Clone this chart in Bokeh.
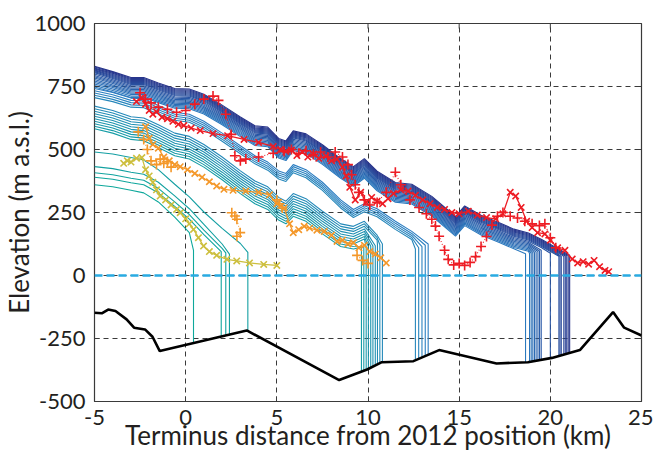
from bokeh.plotting import figure
from bokeh.models import FixedTicker, Span, Range1d
from bokeh.embed import file_html
from bokeh.resources import INLINE

nan = float("nan")

# ---------------- axes ----------------
x_tick_values = [-5, 0, 5, 10, 15, 20, 25]
x_tick_labels = ["-5", "0", "5", "10", "15", "20", "25"]
y_tick_values = [-500, -250, 0, 250, 500, 750, 1000]
y_tick_labels = ["-500", "-250", "0", "250", "500", "750", "1000"]
x_label = "Terminus distance from 2012 position (km)"
y_label = "Elevation (m a.s.l.)"
sea_level = 0

# ---------------- bed ----------------
bed_x = [-5, -4.6, -4.25, -3.85, -3.24, -2.83, -2.23, -1.82, -1.42, 3.35, 8.42, 9.95, 10.76,
         12.49, 13.9, 17.05, 18.77, 20.09, 21.62, 23.44, 24.05, 25]
bed_z = [-148, -150, -135, -141, -174, -207, -214, -243, -300, -218, -415, -373, -344,
         -340, -296, -349, -344, -327, -296, -145, -207, -238]

# ---------------- modelled surface profiles ----------------
profile_x = [-5, -4, -3, -2.3, -1.5, -0.6, 0.2, 1, 2, 3, 3.8, 4.5, 5.1, 5.5, 5.9, 6.6, 7.5,
             8.5, 9.2, 9.8, 10.5, 11.5, 12.4, 13.5, 14.8, 15.3, 16.2, 17.2, 18, 18.8, 19.5, 20.3]

group_a = [
    [360, 352, 338, 328, 292, 232, 170],
    [390, 382, 368, 360, 328, 274, 224, 162],
    [408, 400, 386, 378, 346, 292, 242, 180, 108],
    [432, 424, 410, 402, 370, 316, 265, 203, 125],
    [490, 482, 468, 458, 420, 362, 312, 252, 187, 127],
]
group_a_termini = [0.43, 1.95, 2.2, 2.4, 3.41]
group_a_term_surface = [100, 95, 90, 85, 92]
group_a_term_bed = [-268, -242, -238, -234, -220]

group_b = [
    [582, 565, 540, 535, 508, 475, 462, 430, 380, 325, 285, 262, 220, 205, 235, 215, 165, 115, 105],
    [592, 575, 550, 545, 518, 485, 472, 440, 390, 335, 295, 272, 230, 215, 245, 225, 175, 125, 115],
    [602, 585, 560, 555, 528, 495, 482, 450, 400, 345, 305, 282, 240, 225, 255, 235, 185, 135, 125, 145],
    [612, 595, 570, 565, 538, 505, 492, 460, 410, 355, 315, 292, 250, 235, 265, 245, 195, 145, 135, 155],
    [622, 605, 580, 575, 548, 515, 502, 470, 420, 365, 325, 302, 260, 245, 275, 255, 205, 155, 145, 165],
    [632, 615, 590, 585, 558, 525, 512, 480, 430, 375, 335, 312, 270, 255, 285, 265, 215, 165, 155, 175],
    [642, 625, 600, 595, 568, 535, 522, 490, 440, 385, 345, 322, 280, 265, 295, 275, 225, 175, 165, 185],
    [652, 635, 610, 605, 578, 545, 532, 500, 450, 395, 355, 332, 290, 275, 305, 285, 235, 185, 175, 195, 140],
    [662, 645, 620, 615, 588, 555, 542, 510, 460, 405, 365, 342, 300, 285, 315, 295, 245, 195, 185, 205, 150],
    [672, 655, 630, 625, 598, 565, 552, 520, 470, 415, 375, 352, 310, 295, 325, 305, 255, 205, 195, 215, 160],
]
group_b_termini = [9.64, 9.77, 9.9, 10.02, 10.15, 10.27, 10.4, 10.52, 10.65, 10.79]
group_b_term_surface = [112, 113, 114, 115, 116, 117, 118, 120, 122, 125]
group_b_term_bed = [-381, -377, -374, -370, -366, -362, -357, -353, -348, -344]

group_c = [
    [706, 690, 668, 666, 641, 616, 608, 580, 533, 483, 443, 418, 383, 373, 408, 388, 338, 268, 230, 253, 233, 183, 143],
    [715, 699, 677, 675, 650, 624, 616, 588, 541, 491, 451, 426, 391, 381, 416, 396, 346, 276, 238, 261, 241, 191, 151],
    [724, 708, 686, 684, 658, 632, 624, 596, 549, 499, 459, 434, 399, 389, 424, 404, 354, 284, 246, 269, 249, 199, 159],
    [733, 717, 695, 693, 666, 640, 632, 604, 557, 507, 467, 442, 407, 397, 432, 412, 362, 292, 254, 277, 257, 207, 167],
    [742, 726, 704, 702, 675, 648, 640, 612, 565, 515, 475, 450, 415, 405, 440, 420, 370, 300, 262, 285, 265, 215, 175],
]
group_c_termini = [12.6, 12.78, 12.96, 13.14, 13.3]
group_c_term_surface = [105, 110, 115, 120, 125]
group_c_term_bed = [-337, -331, -325, -320, -315]

group_d = [
    [748, 728, 706, 707, 686, 664, 662, 641, 598, 551, 516, 511, 466, 456, 496, 484, 441, 386, 354, 386, 336, 291, 284, 236, 156, 198, 161, 131, 106],
    [754, 734, 712, 712, 691, 669, 667, 646, 603, 556, 521, 516, 471, 461, 501, 489, 446, 391, 359, 391, 341, 296, 289, 241, 161, 203, 166, 136, 111, 96],
    [760, 740, 718, 718, 696, 674, 672, 651, 608, 561, 526, 521, 476, 466, 506, 494, 451, 396, 364, 396, 346, 301, 294, 246, 166, 208, 171, 141, 116, 101],
    [766, 746, 723, 723, 701, 679, 677, 656, 613, 566, 531, 526, 481, 471, 511, 499, 456, 401, 369, 401, 351, 306, 299, 251, 171, 213, 176, 146, 121, 106],
    [772, 751, 728, 728, 706, 684, 682, 661, 618, 571, 536, 531, 486, 476, 516, 504, 461, 406, 374, 406, 356, 311, 304, 256, 176, 218, 181, 151, 126, 111],
    [778, 756, 733, 733, 711, 689, 687, 666, 623, 576, 541, 536, 491, 481, 521, 509, 466, 411, 379, 411, 361, 316, 309, 261, 181, 223, 186, 156, 131, 116],
    [784, 762, 738, 738, 716, 694, 692, 671, 628, 581, 546, 541, 496, 486, 526, 514, 471, 416, 384, 416, 366, 321, 314, 266, 186, 228, 191, 161, 136, 121],
    [789, 767, 743, 743, 721, 699, 697, 676, 633, 586, 551, 546, 501, 491, 531, 519, 476, 421, 389, 421, 371, 326, 319, 271, 191, 233, 196, 166, 141, 126],
    [794, 772, 748, 748, 726, 704, 702, 681, 638, 591, 556, 551, 506, 496, 536, 524, 481, 426, 394, 426, 376, 331, 324, 276, 196, 238, 201, 171, 146, 131],
]
group_d_termini = [18.64, 18.86, 18.95, 19.04, 19.13, 19.22, 19.32, 19.41, 19.5]
group_d_term_surface = [86, 87, 88, 89, 91, 93, 95, 97, 100]
group_d_term_bed = [-344, -343, -342, -340, -339, -338, -337, -336, -335]

group_e = [
    [800, 777, 753, 753, 731, 709, 707, 686, 643, 596, 561, 556, 511, 501, 541, 529, 486, 431, 399, 431, 381, 336, 329, 281, 201, 243, 206, 176, 151, 136, 111],
    [805, 782, 758, 758, 736, 714, 712, 691, 648, 601, 566, 561, 516, 506, 546, 534, 491, 436, 404, 436, 386, 341, 334, 286, 206, 248, 211, 181, 156, 141, 116, 83],
    [809, 786, 762, 762, 740, 718, 716, 695, 652, 605, 570, 565, 520, 510, 550, 538, 495, 440, 408, 440, 390, 345, 338, 290, 210, 252, 215, 185, 160, 145, 120, 87],
    [813, 790, 766, 766, 744, 722, 720, 699, 656, 609, 574, 569, 524, 514, 554, 542, 499, 444, 412, 444, 394, 349, 342, 294, 214, 256, 219, 189, 164, 149, 124, 91],
    [816, 794, 770, 770, 748, 726, 724, 703, 660, 613, 578, 573, 528, 518, 558, 546, 503, 448, 416, 448, 398, 353, 346, 298, 218, 260, 223, 193, 168, 153, 128, 95],
    [820, 798, 774, 774, 752, 730, 728, 707, 664, 617, 582, 577, 532, 522, 562, 550, 507, 452, 420, 452, 402, 357, 350, 302, 222, 264, 227, 197, 172, 157, 132, 99],
    [823, 802, 778, 778, 756, 734, 732, 711, 668, 621, 586, 581, 536, 526, 566, 554, 511, 456, 424, 456, 406, 361, 354, 306, 226, 268, 231, 201, 176, 161, 136, 103],
    [827, 806, 782, 782, 760, 738, 736, 715, 672, 625, 590, 585, 540, 530, 570, 558, 515, 460, 428, 460, 410, 365, 358, 310, 230, 272, 235, 205, 180, 165, 140, 107],
    [830, 809, 786, 786, 764, 742, 740, 719, 676, 629, 594, 589, 544, 534, 574, 562, 519, 464, 432, 464, 414, 369, 362, 314, 234, 276, 239, 209, 184, 169, 144, 111],
]
group_e_termini = [20.0, 20.47, 20.53, 20.6, 20.74, 20.82, 20.9, 20.98, 21.06]
group_e_term_surface = [88, 76, 76, 76, 76, 77, 78, 79, 80]
group_e_term_bed = [-328, -319, -318, -317, -314, -312, -311, -309, -307]

# ---------------- observed profiles ----------------
red_x_km = [-2.7, -2.4, -2.2, -2.0, -1.8, -1.6, -1.3, -1.0, -0.7, -0.4, -0.1, 0.3, 0.8, 1.5, 2.3,
            3.2, 4.0, 4.8, 5.2, 5.5, 5.8, 6.1, 6.4, 6.7, 7.0, 7.3, 7.7, 8.0, 8.3, 8.6, 8.8, 9.0,
            9.3, 9.6, 9.9, 10.2, 10.5, 10.8, 11.1, 11.4, 11.8, 12.2, 12.6, 13.0, 13.4, 13.8,
            14.2, 14.6, 15.0, 15.5, 16.0, 16.5, 17.0, 17.4, 17.8, 18.1, 18.4, 18.7, 19.0, 19.3,
            19.7, 20.0, 20.4, 20.8, 21.2, 21.5, 21.8, 22.1, 22.4, 22.7, 23.0, 23.2]
red_x_elev = [690, 705, 680, 655, 640, 650, 628, 622, 612, 600, 595, 585, 575, 563, 555,
              540, 528, 512, 500, 492, 498, 476, 490, 470, 482, 465, 474, 455, 462, 430, 395, 350,
              300, 330, 290, 310, 295, 285, 305, 325, 340, 335, 318, 300, 285, 270,
              262, 250, 245, 255, 240, 230, 225, 245, 330, 315, 270, 215, 190, 170,
              165, 140, 110, 100, 65, 50, 55, 45, 60, 35, 20, 15]

red_plus_km = [-2.5, -2.2, -1.9, -1.5, -1.0, -0.5, 0.0, 0.5, 1.0, 1.5, 1.8, 2.2, 2.5, 2.7, 3.0,
               3.3, 4.0, 4.8, 5.4, 5.8, 6.2, 6.6, 7.0, 7.4, 7.8, 8.2, 8.6, 8.9, 9.1, 9.3, 9.5,
               9.8, 10.1, 10.5, 11.0, 11.5, 11.8, 12.3, 12.8, 13.2, 13.5, 13.7, 13.9, 14.2, 14.4,
               14.7, 15.0, 15.3, 15.6, 15.9, 16.2, 16.5, 16.8, 17.1, 17.4, 17.8, 18.2, 18.6,
               19.0, 19.4, 19.7, 20.0, 20.3]
red_plus_elev = [725, 700, 685, 668, 660, 648, 655, 680, 700, 712, 695, 640, 560, 475, 455,
                 462, 470, 485, 492, 500, 485, 495, 480, 490, 470, 490, 470, 440, 400, 360, 330,
                 300, 280, 290, 330, 410, 360, 300, 270, 245, 223, 196, 156, 100, 64,
                 42, 48, 40, 52, 75, 115, 155, 200, 235, 250, 235, 228, 215,
                 205, 198, 205, 150, 110]

orange_x_km = [-2.2, -2.0, -1.8, -1.5, -1.2, -0.9, -0.6, -0.3, 0.1, 0.5, 0.9, 1.3, 1.7, 2.1,
               2.6, 3.3, 4.0, 4.6, 5.0, 5.4, 5.7, 5.9, 6.2, 6.5, 6.8, 7.2, 7.6, 8.0, 8.3, 8.6,
               8.9, 9.2, 9.5, 9.8, 10.1, 10.4, 10.7, 11.0]
orange_x_elev = [590, 545, 520, 505, 470, 455, 440, 432, 420, 405, 390, 372, 355, 342,
                 338, 335, 330, 320, 285, 268, 205, 170, 182, 195, 188, 180, 175, 160, 135, 140,
                 125, 130, 110, 120, 95, 85, 70, 50]

# nan marks a gap in the surveyed track
orange_plus_km = [-2.6, -2.3, -2.1, -1.9, -1.6, -1.4, -1.2, -1.0, -0.8, nan, 2.53, 2.7, 2.81,
                  2.99, 2.81, nan, 5.0, 5.15, 5.3, nan, 9.4, 9.7, 10.0]
orange_plus_elev = [570, 540, 500, 455, 440, 462, 445, 452, 430, nan, 249, 236, 223,
                    170, 156, nan, 300, 285, 268, nan, 80, 60, 48]

yellow_x_km = [-3.4, -3.2, -3.0, -2.7, -2.4, -2.2, -2.0, -1.8, -1.6, -1.4, -1.1, -0.8, -0.5,
               -0.3, 0.0, 0.2, 0.43, 0.7, 0.98, 1.3, 1.7, 2.26, 2.8, 3.5, 4.28, 5.0]
yellow_x_elev = [445, 455, 450, 465, 468, 420, 395, 370, 340, 315, 300, 280, 262,
                 249, 225, 205, 183, 150, 117, 95, 80, 64, 58, 50, 44, 40]

# ---------------- styling ----------------
TEXT = "#231f20"
FRAME = "#3a3a3a"
FONT = "Lato"
RED = "#ed1c24"
ORANGE = "#f4982a"
YELLOW = "#cdbf3e"
CYAN = "#29abe2"


def blend(t):
    anchors = [(0.0, (14, 168, 155)), (0.5, (43, 127, 194)), (1.0, (39, 52, 139))]
    for (t0, c0), (t1, c1) in zip(anchors[:-1], anchors[1:]):
        if t <= t1:
            f = (t - t0) / (t1 - t0)
            return "#%02x%02x%02x" % tuple(int(round(a + (b - a) * f)) for a, b in zip(c0, c1))
    return "#%02x%02x%02x" % anchors[-1][1]


p = figure(frame_width=547, frame_height=378,
           x_range=Range1d(-5, 25), y_range=Range1d(-500, 1000),
           output_backend="svg", toolbar_location=None,
           min_border_left=88, min_border_right=12, min_border_top=23, min_border_bottom=47)
p.background_fill_color = "white"
p.border_fill_color = "white"
p.outline_line_color = FRAME
p.outline_line_width = 1.2

for ax, vals, labs in ((p.xaxis[0], x_tick_values, x_tick_labels),
                       (p.yaxis[0], y_tick_values, y_tick_labels)):
    ax.ticker = FixedTicker(ticks=vals)
    ax.major_label_overrides = {v: l for v, l in zip(vals, labs)}
    ax.major_tick_in = 5
    ax.major_tick_out = 0
    ax.minor_tick_in = 0
    ax.minor_tick_out = 0
    ax.axis_line_color = None
    ax.major_tick_line_color = FRAME
    ax.major_label_text_font = FONT
    ax.major_label_text_font_size = "22px"
    ax.major_label_text_color = TEXT
    ax.major_label_text_line_height = 1.0
    ax.axis_label_text_font = FONT
    ax.axis_label_text_font_size = "26px"
    ax.axis_label_text_font_style = "normal"
    ax.axis_label_text_color = TEXT
    ax.axis_label_text_line_height = 1.0

p.xaxis.axis_label = x_label
p.yaxis.axis_label = y_label
p.xaxis.major_label_standoff = 8
p.xaxis.axis_label_standoff = -9
p.yaxis.major_label_standoff = 9
p.yaxis.axis_label_standoff = -4

for g in (p.xgrid[0], p.ygrid[0]):
    g.grid_line_color = FRAME
    g.grid_line_dash = "5 4"
    g.grid_line_width = 1

# inward ticks on the top and right frame edges (positions from the tick lists)
top_tick_len = 20
right_tick_len = 0.27
p.segment(x0=x_tick_values, y0=[1000] * len(x_tick_values), x1=x_tick_values,
          y1=[1000 - top_tick_len] * len(x_tick_values), line_color=FRAME, line_width=1)
p.segment(x0=[25] * len(y_tick_values), y0=y_tick_values, x1=[25 - right_tick_len] * len(y_tick_values),
          y1=y_tick_values, line_color=FRAME, line_width=1)

# modelled profiles
groups = [
    (group_a, group_a_termini, group_a_term_surface, group_a_term_bed),
    (group_b, group_b_termini, group_b_term_surface, group_b_term_bed),
    (group_c, group_c_termini, group_c_term_surface, group_c_term_bed),
    (group_d, group_d_termini, group_d_term_surface, group_d_term_bed),
    (group_e, group_e_termini, group_e_term_surface, group_e_term_bed),
]
xs, ys = [], []
for lines, terms, tsurf, tbed in groups:
    for vals, tx, ts, tb in zip(lines, terms, tsurf, tbed):
        xs.append(list(profile_x[:len(vals)]) + [tx, tx])
        ys.append(list(vals) + [ts, tb])
n = len(xs)
colors = [blend(i / (n - 1)) for i in range(n)]
p.multi_line(xs=xs, ys=ys, line_color=colors, line_width=1.1)

# observations
p.line(red_plus_km, red_plus_elev, line_color=RED, line_width=1.1, line_dash="1 2")
p.scatter(red_plus_km, red_plus_elev, marker="cross", size=10, line_color=RED, line_width=1.6)
p.line(red_x_km, red_x_elev, line_color=RED, line_width=1.3)
p.scatter(red_x_km, red_x_elev, marker="x", size=9, line_color=RED, line_width=1.6)

p.line(orange_plus_km, orange_plus_elev, line_color=ORANGE, line_width=1.1, line_dash="1 2")
p.scatter(orange_plus_km, orange_plus_elev, marker="cross", size=10, line_color=ORANGE, line_width=1.6)
p.line(orange_x_km, orange_x_elev, line_color=ORANGE, line_width=1.3)
p.scatter(orange_x_km, orange_x_elev, marker="x", size=9, line_color=ORANGE, line_width=1.6)

p.line(yellow_x_km, yellow_x_elev, line_color=YELLOW, line_width=1.3)
p.scatter(yellow_x_km, yellow_x_elev, marker="x", size=9, line_color=YELLOW, line_width=1.6)

# sea level and bed
p.add_layout(Span(location=sea_level, dimension="width", line_color=CYAN,
                  line_width=2.5, line_dash="8 4"))
p.line(bed_x, bed_z, line_color="black", line_width=2.6)

open("out.html", "w").write(file_html(p, INLINE))
